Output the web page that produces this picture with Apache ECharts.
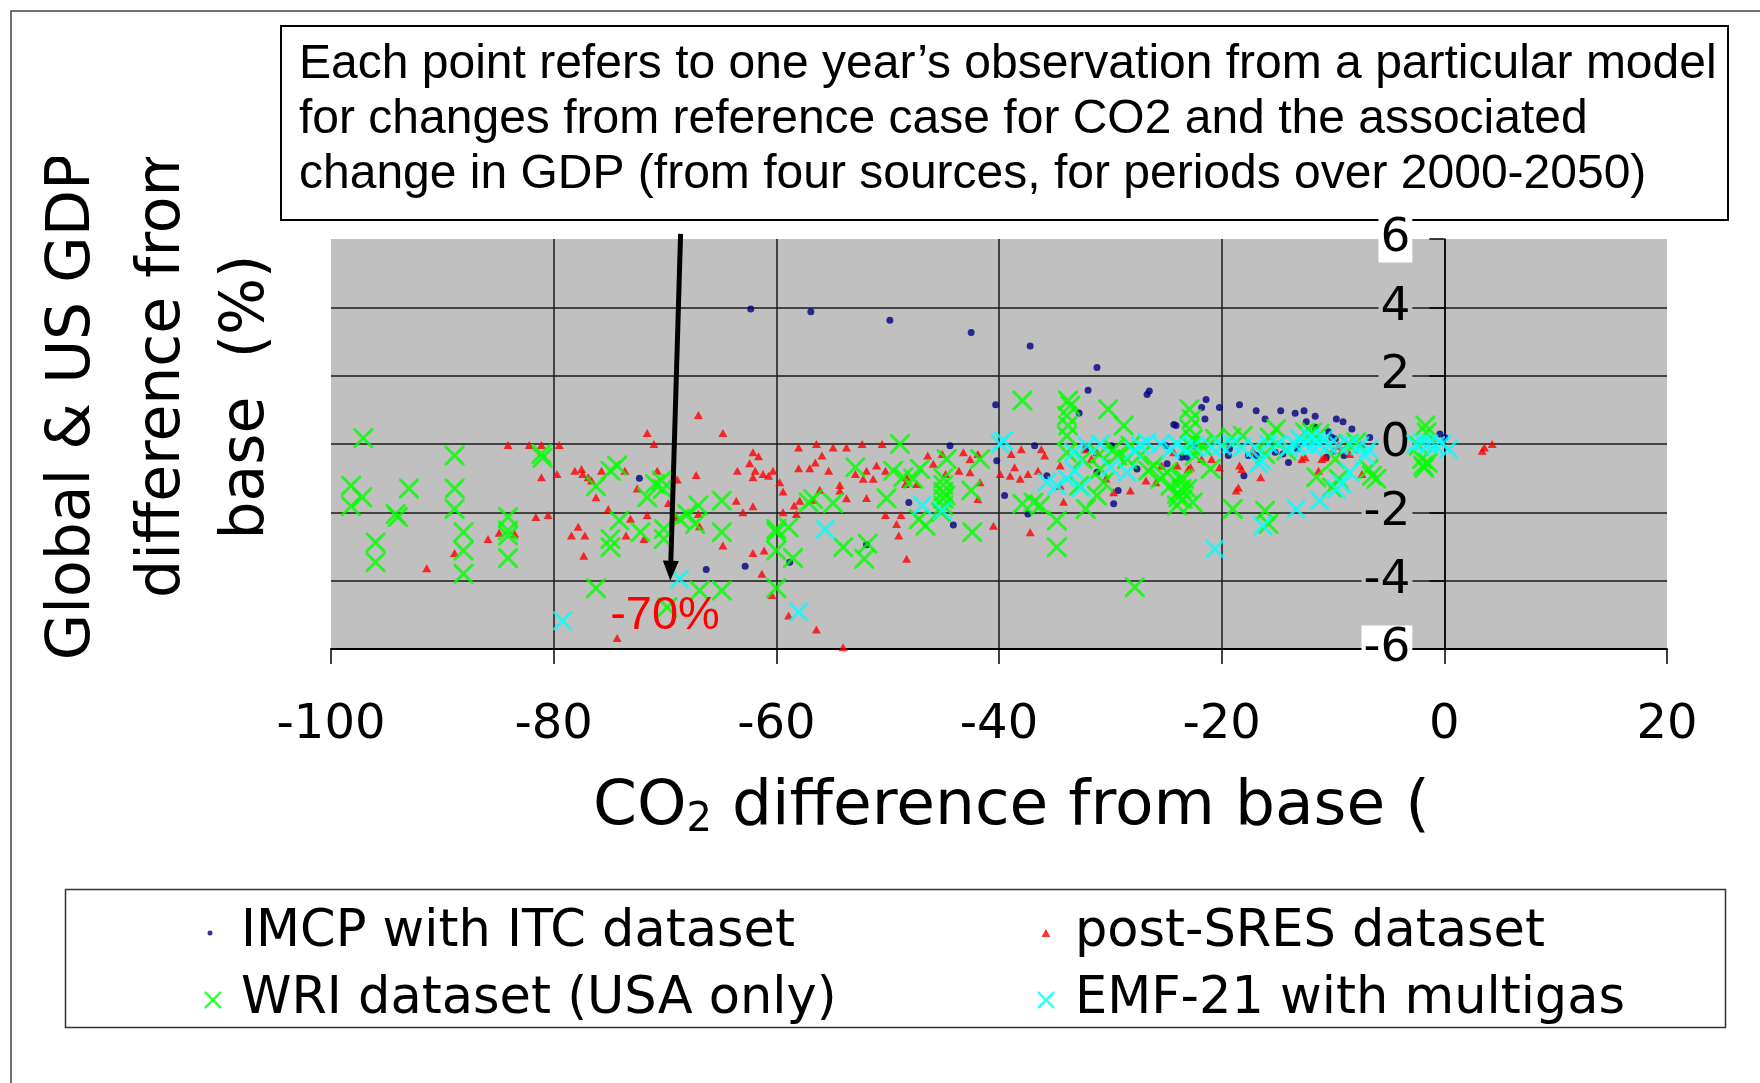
<!DOCTYPE html>
<html lang="en" style="height: 100%">
<head>
  <meta charset="UTF-8">
  <title>CO2 and GDP difference from base</title>
</head>
<body style="height: 100%; margin: 0; background: #fff">
<div id="container" style="width: 1760px; height: 1083px"></div>
<script type="text/javascript" src="https://cdn.jsdelivr.net/npm/echarts@6.0.0/dist/echarts.min.js"></script>

<script type="text/javascript">
  // each point: [CO2 difference from base (%), GDP difference from base (%)]
  var imcpData = [
    [-62.3, 3.95], [-56.9, 3.87], [-49.8, 3.62], [-42.5, 3.26], [-37.2, 2.87], [-31.2, 2.24],
    [-32.0, 1.57], [-26.5, 1.55], [-26.7, 1.45], [-40.3, 1.15], [-32.8, 0.91], [-24.1, 0.54],
    [-21.4, 1.30], [-21.8, 1.07], [-21.5, 0.73], [-20.2, 1.07], [-18.4, 1.15], [-16.9, 0.97],
    [-16.1, 0.73], [-14.7, 0.97], [-13.4, 0.90], [-12.6, 0.97], [-11.6, 0.81], [-12.4, 0.65],
    [-9.7, 0.73], [-9.1, 0.65], [-8.3, 0.44], [-24.3, 0.57], [-11.6, 0.49], [-10.4, 0.36],
    [-9.8, 0.15], [-6.7, 0.19], [-0.4, 0.29], [0.05, 0.19], [-18.0, -0.93], [-14.0, -0.54],
    [-14.5, -0.29], [-23.6, -0.39], [-19.4, -0.34], [-17.6, -0.34], [-16.9, -0.34], [-15.2, -0.24],
    [-10.6, -0.39], [-9.0, -0.34], [-44.4, -0.05], [-40.2, -0.49], [-39.5, -1.51], [-48.1, -1.71],
    [-44.1, -2.37], [-36.8, -0.05], [-35.7, -0.93], [-37.4, -2.05], [-29.7, -1.75], [-29.3, -1.36],
    [-27.6, -0.73], [-29.9, -0.05], [-24.9, -0.58], [-23.1, -0.39], [-31.2, -0.83], [-72.3, -1.00],
    [-66.3, -3.67], [-62.8, -3.58], [-58.8, -3.46], [-51.9, -2.95], [-22.5, -0.05], [-25.0, -0.05],
    [-19.3, -0.14], [-32.2, -0.14], [-13.2, -0.14], [-10.1, 0.19]
  ];

  var sresData = [
    [-84.1, -0.03], [-82.2, -0.03], [-81.1, -0.03], [-79.5, -0.03], [-81.1, -0.97], [-79.7, -0.88],
    [-78.1, -0.78], [-77.5, -0.73], [-77.4, -0.88], [-76.9, -0.97], [-76.6, -1.07], [-76.2, -1.56],
    [-75.1, -1.90], [-81.6, -2.14], [-80.5, -2.08], [-85.9, -2.78], [-84.9, -2.60], [-83.5, -2.63],
    [-88.9, -3.19], [-91.4, -3.64], [-77.8, -2.42], [-78.4, -2.68], [-77.2, -2.68], [-77.3, -3.27],
    [-73.5, -2.68], [-73.1, -2.19], [-75.7, -0.78], [-74.3, -5.68], [-73.6, -0.78],
    [-67.0, 0.85], [-71.6, 0.32], [-64.8, 0.32], [-71.0, 0.0], [-58.0, -0.10], [-56.4, 0.0],
    [-54.9, -0.10], [-53.7, -0.10], [-52.3, 0.0], [-50.5, 0.0], [-62.1, -0.24], [-61.6, -0.36],
    [-62.4, -0.56], [-55.9, -0.34], [-56.5, -0.54], [-63.5, -0.78], [-61.9, -0.78], [-61.2, -0.88],
    [-60.3, -0.78], [-60.7, -0.93], [-62.1, -0.97], [-58.0, -0.71], [-57.0, -0.71], [-55.3, -0.78],
    [-52.9, -0.88], [-51.9, -0.78], [-51.0, -0.63], [-50.2, -0.78], [-52.2, -1.02], [-51.3, -1.02],
    [-59.7, -1.12], [-59.4, -1.39], [-54.3, -1.20], [-54.3, -1.36], [-53.7, -1.59], [-51.9, -1.58],
    [-56.1, -1.34], [-56.7, -1.63], [-58.4, -1.80], [-57.9, -1.66], [-58.2, -2.05], [-59.4, -2.00],
    [-62.1, -1.82], [-63.0, -2.00], [-63.6, -1.66], [-67.2, -0.91], [-68.9, -1.04], [-70.7, -0.78],
    [-72.5, -1.30], [-69.7, -1.73], [-71.6, -2.08], [-69.0, -2.14], [-67.0, -2.05], [-66.9, -2.41],
    [-71.9, -2.78], [-64.8, -2.97], [-62.1, -3.19], [-61.1, -3.12], [-61.3, -3.80], [-60.4, -4.42],
    [-58.9, -5.02], [-56.4, -5.43], [-54.0, -5.95], [-48.3, -3.36], [-49.0, -2.68], [-49.2, -2.34],
    [-48.8, -2.08], [-50.2, -2.08], [-48.4, -1.17],
    [-46.4, -0.34], [-45.9, -0.58], [-45.1, -0.29], [-43.2, -0.24], [-42.6, -0.44], [-41.9, -0.29],
    [-48.3, -0.97], [-47.4, -1.17], [-44.8, -0.88], [-43.6, -0.78], [-42.6, -0.83], [-41.7, -1.12],
    [-41.9, -1.61], [-39.9, -0.88], [-39.0, -0.93], [-38.6, -0.68], [-38.0, -0.15], [-38.9, -0.29],
    [-36.2, -0.15], [-35.9, -0.34], [-38.1, -1.02], [-37.4, -0.88], [-36.5, -0.78], [-34.5, -0.63],
    [-34.5, -1.22], [-34.2, -1.69], [-37.2, -2.58], [-40.5, -2.39], [-29.7, -1.41], [-28.2, -1.36],
    [-26.8, -1.07], [-25.9, -1.12], [-24.0, -0.63], [-22.8, -0.68], [-32.3, -0.15], [-31.2, -0.24],
    [-24.3, -0.24], [-31.7, -0.43], [-30.4, -1.01], [-25.4, -0.63],
    [-23.0, -0.73], [-21.8, -0.44], [-20.9, -0.44], [-20.2, -0.68], [-18.4, -0.63], [-18.2, -0.73],
    [-18.7, -1.36], [-18.5, -1.27], [-16.5, -0.97], [-17.2, -0.19], [-12.8, -0.44], [-12.5, -0.39],
    [-11.0, -0.44], [-10.7, -0.39], [-10.0, -0.19], [-9.5, -0.05], [-9.2, -0.19], [-8.5, -0.29],
    [-7.5, 0.0], [-7.4, -0.88], [-11.3, -0.78], [3.4, -0.2], [3.6, -0.1], [4.3, 0.0]
  ];

  var wriData = [
    [-97.1, 0.17], [-88.9, -0.34], [-98.2, -1.22], [-97.2, -1.56], [-98.2, -1.82], [-93.0, -1.30],
    [-94.2, -2.05], [-94.0, -2.14], [-88.9, -1.30], [-88.9, -1.90], [-96.0, -2.88], [-96.0, -3.46],
    [-88.1, -2.58], [-88.1, -3.12], [-88.1, -3.80], [-84.1, -2.14], [-84.1, -2.53], [-84.1, -2.68],
    [-84.1, -3.34], [-81.1, -0.29], [-81.0, -0.40], [-76.2, -1.24], [-76.2, -4.22], [-74.9, -0.78],
    [-74.3, -0.63], [-74.1, -2.24], [-74.9, -2.78], [-74.9, -3.02],
    [-71.6, -1.56], [-70.9, -1.17], [-70.3, -1.07], [-70.2, -1.32], [-72.2, -2.58], [-70.1, -2.49],
    [-70.1, -2.78], [-68.7, -2.19], [-68.0, -2.05], [-67.0, -1.80], [-67.3, -2.34], [-64.9, -1.66],
    [-64.9, -2.58], [-66.9, -4.29], [-64.9, -4.29], [-69.8, -4.78], [-60.0, -2.49], [-60.0, -2.58],
    [-58.9, -2.44], [-60.0, -3.12], [-58.5, -3.34], [-60.0, -4.22], [-57.1, -1.71], [-56.7, -1.61],
    [-54.9, -1.73], [-52.9, -0.68], [-54.0, -3.02], [-51.8, -2.92], [-52.1, -3.36], [-50.1, -1.59],
    [-49.5, -0.78], [-48.9, 0.0], [-48.6, -0.97], [-47.7, -1.02], [-47.2, -2.2],
    [-37.9, 1.27], [-33.8, 1.27], [-33.6, 1.12], [-33.9, 0.83], [-33.8, 0.54], [-33.9, 0.24],
    [-30.2, 1.02], [-28.8, 0.54], [-47.1, -0.73], [-44.7, -0.44], [-45.0, -1.0], [-45.0, -1.2],
    [-45.0, -1.4], [-45.0, -1.6], [-45.0, -1.8], [-45.2, -2.0], [-44.8, -1.5], [-46.6, -2.39],
    [-42.4, -2.58], [-41.7, -0.44], [-42.5, -1.36], [-37.9, -1.75], [-36.9, -1.71], [-36.3, -1.80],
    [-34.8, -2.24], [-34.8, -3.02], [-32.2, -1.90], [-31.2, -1.51], [-32.8, -1.22], [-30.9, -0.73],
    [-29.4, -0.34], [-29.7, -0.15], [-27.8, -4.19], [-26.1, -0.63], [-24.6, -1.22], [-24.0, -1.46],
    [-23.5, -1.61], [-22.9, 1.02], [-22.7, 0.73], [-22.9, 0.44], [-22.6, 0.15], [-28.2, -0.05],
    [-27.3, -0.34], [-26.6, -0.78], [-25.5, -1.02], [-24.9, -0.83], [-23.4, -1.02], [-23.1, -1.32],
    [-22.6, -1.71], [-24.0, -1.80], [-30.6, -1.12], [-28.5, -0.44], [-33.9, -0.25], [-32.5, -0.45],
    [-31.0, -0.3],
    [-22.8, -0.05], [-22.4, -0.34], [-23.6, -1.32], [-23.9, -1.56], [-23.7, -1.02], [-21.8, -0.05],
    [-21.0, -0.73], [-20.6, 0.15], [-19.1, 0.19], [-18.1, 0.24], [-19.0, -1.90], [-16.1, -1.95],
    [-15.8, -2.34], [-15.1, 0.44], [-15.7, 0.19], [-16.1, -0.29], [-12.5, 0.34], [-11.5, -0.97],
    [-11.9, 0.34], [-11.2, 0.29], [-9.8, -0.44], [-9.5, -1.02], [-10.1, -1.27], [-8.6, 0.0],
    [-7.9, 0.05], [-6.8, -0.73], [-6.5, -0.93], [-6.1, -1.02], [-1.7, 0.54], [-1.6, 0.34],
    [-2.0, -0.44], [-1.9, -0.63], [-2.3, -0.05], [-14.2, -0.19], [-1.8, -0.7], [-1.5, -0.55]
  ];

  var emfData = [
    [-79.2, -5.17], [-68.7, -3.95], [-58.0, -4.92], [-55.6, -2.50], [-46.9, -1.80], [-45.1, -1.95],
    [-39.9, 0.0], [-39.6, 0.1], [-35.7, -1.12], [-34.8, -1.22], [-33.9, -1.02], [-33.2, -0.78],
    [-32.6, -1.27], [-33.3, -0.24], [-32.1, -0.05], [-30.9, 0.0], [-30.0, -0.68], [-28.5, -0.83],
    [-27.9, -0.19], [-27.3, -0.05], [-26.7, 0.05], [-25.5, 0.0], [-24.6, -0.15], [-24.0, 0.0],
    [-23.4, -0.15], [-22.5, -0.05], [-20.9, -0.1], [-20.0, -0.05], [-19.1, 0.0], [-18.2, -0.1],
    [-17.0, -0.1], [-15.8, 0.0], [-14.9, 0.0], [-14.0, -0.1], [-13.3, -0.05], [-12.5, 0.0],
    [-11.9, -0.05], [-11.2, 0.0], [-10.4, -0.05], [-9.5, -0.05], [-8.5, 0.0], [-7.6, -0.05],
    [-7.1, -0.34], [-6.8, -0.15], [-2.6, 0.0], [-2.0, 0.05], [-1.4, 0.0], [-0.8, -0.05],
    [-0.2, 0.0], [0.4, -0.15], [-16.4, -0.49], [-16.7, -0.58], [-20.6, -3.07], [-16.3, -2.39],
    [-13.3, -1.90], [-11.2, -1.66], [-9.7, -1.32], [-9.2, -1.17], [-8.5, -0.83], [-13.0, 0.15],
    [-12.0, 0.2], [-11.5, 0.1], [-10.8, 0.15]
  ];

  var seriesNames = ['IMCP with ITC dataset', 'post-SRES dataset', 'WRI dataset (USA only)', 'EMF-21 with multigas'];
  var xRange = [-100, 20];
  var yRange = [-6, 6];
  var noteLines = [
    'Each point refers to one year\u2019s observation from a particular model',
    'for changes from reference case for CO2 and the associated',
    'change in GDP (from four sources, for periods over 2000-2050)'
  ];
  var arrowFrom = [-68.6, 6.15];
  var arrowTo = [-69.5, -3.71];
  var noteMark = [-70, -5.05];

  var crossPath = 'path://M0,0L2.1,0L10,7.9L17.9,0L20,0L20,2.1L12.1,10L20,17.9L20,20L17.9,20L10,12.1L2.1,20L0,20L0,17.9L7.9,10L0,2.1Z';
  var triPath = 'path://M5,0L10,9L0,9Z';

  var dom = document.getElementById('container');
  var myChart = echarts.init(dom, null, { renderer: 'canvas' });

  // grid geometry, the y axis is drawn where x = 0
  var gridLeft = 331, gridWidth = 1336;
  var yAxisShift = gridWidth * (0 - xRange[0]) / (xRange[1] - xRange[0]);

  var legendText = { fontSize: 51, fontFamily: 'DejaVu Sans', color: '#000', lineHeight: 56 };
  // left is where the icon itself starts; text sits itemWidth/2 + 5 right of the icon centre
  function legendAt(name, icon, left, top, w, h) {
    return {
      data: [{ name: name, icon: icon }],
      left: left, top: top, padding: 0,
      itemWidth: w, itemHeight: h,
      symbolKeepAspect: true,
      selectedMode: false,
      textStyle: legendText
    };
  }

  var tickFont = { fontSize: 47, fontFamily: 'DejaVu Sans', color: '#000', lineHeight: 50, padding: [0, 2] };

  var option = {
    animation: false,
    backgroundColor: '#fff',
    grid: {
      left: gridLeft, top: 239, width: gridWidth, height: 410,
      show: true, backgroundColor: '#c0c0c0', borderWidth: 0
    },
    xAxis: {
      type: 'value', min: xRange[0], max: xRange[1], interval: 20,
      axisLine: { onZero: false, lineStyle: { color: '#000', width: 2 } },
      axisTick: { length: 15, lineStyle: { color: '#000', width: 1.5 } },
      axisLabel: {
        margin: 53, fontSize: 48, fontFamily: 'DejaVu Sans', color: '#000',
        showMinLabel: true, showMaxLabel: true
      },
      splitLine: { show: true, showMinLine: false, showMaxLine: false, lineStyle: { color: '#1a1a1a', width: 1.5 } }
    },
    yAxis: {
      type: 'value', min: yRange[0], max: yRange[1], interval: 2,
      position: 'left', offset: -yAxisShift,
      axisLine: { onZero: false, lineStyle: { color: '#000', width: 1.5 } },
      axisTick: { length: 15, lineStyle: { color: '#000', width: 1.5 } },
      axisLabel: {
        margin: 32, showMinLabel: true, showMaxLabel: true,
        formatter: function (v) {
          return (v === 6 || v === -6) ? '{w|' + v + '}' : '{g|' + v + '}';
        },
        rich: {
          w: Object.assign({ backgroundColor: '#fff' }, tickFont),
          g: Object.assign({ backgroundColor: '#c0c0c0' }, tickFont)
        }
      },
      splitLine: { show: true, showMinLine: false, showMaxLine: false, lineStyle: { color: '#1a1a1a', width: 1.5 } }
    },
    legend: [
      legendAt(seriesNames[0], 'circle', 207.5, 905, 52, 5),
      legendAt(seriesNames[1], triPath, 1041.5, 905, 48, 8),
      legendAt(seriesNames[2], crossPath, 204.5, 972, 46, 17),
      legendAt(seriesNames[3], crossPath, 1037.5, 972, 48, 17)
    ],
    series: [
      {
        name: seriesNames[0], type: 'scatter', data: imcpData, silent: true,
        symbol: 'circle', symbolSize: 7, itemStyle: { color: '#000080' }
      },
      {
        name: seriesNames[1], type: 'scatter', data: sresData, silent: true,
        symbol: 'triangle', symbolSize: [9, 8], itemStyle: { color: '#ff0000' }
      },
      {
        name: seriesNames[2], type: 'scatter', data: wriData, silent: true,
        symbol: crossPath, symbolSize: 20, itemStyle: { color: '#00ff00' }
      },
      {
        name: seriesNames[3], type: 'scatter', data: emfData, silent: true,
        symbol: crossPath, symbolSize: 19, itemStyle: { color: '#00ffff' },
        markPoint: {
          silent: true, animation: false,
          symbol: 'circle', symbolSize: 1, itemStyle: { color: 'transparent' },
          label: {
            show: true, position: 'inside', formatter: '-70%',
            color: '#ff0000', fontSize: 47, fontFamily: 'Liberation Sans'
          },
          data: [{ coord: noteMark }]
        }
      },
      {
        // the arrow pointing at the -70% point
        name: 'arrow', type: 'line', silent: true, clip: false, z: 5,
        data: [
          { value: arrowFrom, symbol: 'none' },
          { value: arrowTo, symbol: 'triangle', symbolSize: [16, 20], symbolRotate: 178.4 }
        ],
        showSymbol: true,
        lineStyle: { color: '#000', width: 5 },
        itemStyle: { color: '#000' }
      }
    ],
    graphic: [
      {
        type: 'rect', silent: true,
        shape: { x: 11, y: 11, width: 1800, height: 1200 },
        style: { fill: 'none', stroke: '#444', lineWidth: 1.5 }
      },
      {
        type: 'rect', silent: true,
        shape: { x: 281, y: 26, width: 1447, height: 194 },
        style: { fill: '#fff', stroke: '#000', lineWidth: 2 }
      },
      {
        type: 'text', silent: true, x: 299, y: 120,
        style: {
          text: noteLines.join('\n'), fontSize: 48, fontFamily: 'Liberation Sans',
          lineHeight: 55, fill: '#000', align: 'left', verticalAlign: 'middle'
        }
      },
      {
        type: 'text', silent: true, x: 73, y: 407, rotation: Math.PI / 2,
        style: { text: 'Global & US GDP', fontSize: 60, fontFamily: 'DejaVu Sans', fill: '#000', align: 'center', verticalAlign: 'middle' }
      },
      {
        type: 'text', silent: true, x: 163, y: 368, rotation: Math.PI / 2,
        style: { text: 'difference from', fontSize: 60, fontFamily: 'DejaVu Sans', fill: '#000', align: 'center', verticalAlign: 'middle' }
      },
      {
        type: 'text', silent: true, x: 247, y: 397, rotation: Math.PI / 2,
        style: { text: 'base  (%)', fontSize: 60, fontFamily: 'DejaVu Sans', fill: '#000', align: 'center', verticalAlign: 'middle' }
      },
      {
        // the y title is cut off at the top in the original
        type: 'rect', silent: true,
        shape: { x: 20, y: 13, width: 255, height: 144 },
        style: { fill: '#fff' }
      },
      {
        type: 'text', silent: true, x: 593, y: 808,
        style: {
          text: '{n|CO}{s|2}{n| difference from base (%)}',
          align: 'left', verticalAlign: 'middle',
          rich: {
            n: { fontSize: 63, fontFamily: 'DejaVu Sans', fill: '#000' },
            s: { fontSize: 40, fontFamily: 'DejaVu Sans', fill: '#000', padding: [25, 0, 0, 0] }
          }
        }
      },
      {
        // the x title is cut off at the right in the original
        type: 'rect', silent: true,
        shape: { x: 1430, y: 760, width: 300, height: 95 },
        style: { fill: '#fff' }
      },
      {
        type: 'rect', silent: true,
        shape: { x: 65.5, y: 889.5, width: 1660, height: 138 },
        style: { fill: 'none', stroke: '#333', lineWidth: 1.5 }
      }
    ]
  };

  myChart.setOption(option);
  window.addEventListener('resize', myChart.resize);
</script>
</body>
</html>
